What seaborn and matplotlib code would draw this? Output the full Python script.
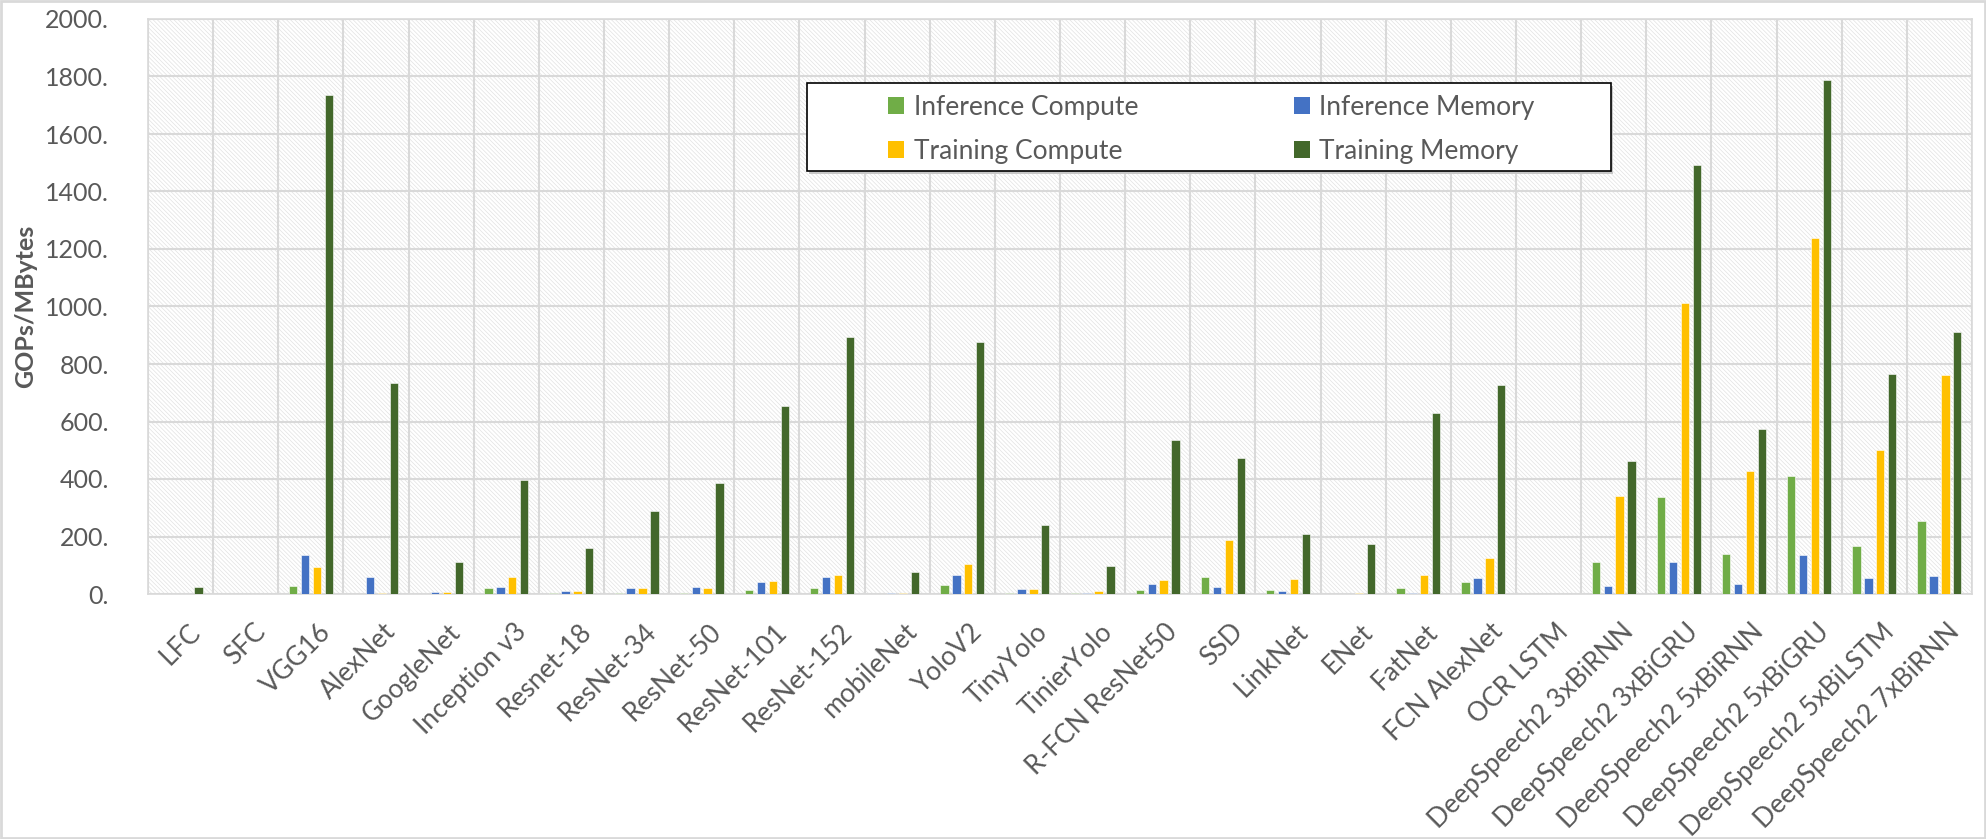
import numpy as np
import pandas as pd
import matplotlib
matplotlib.use("Agg")
import matplotlib.pyplot as plt
import matplotlib.transforms as mtransforms
from matplotlib.patches import Rectangle
from matplotlib.ticker import FixedLocator, FuncFormatter
import seaborn as sns

models = ["LFC", "SFC", "VGG16", "AlexNet", "GoogleNet", "Inception v3", "Resnet-18",
          "ResNet-34", "ResNet-50", "ResNet-101", "ResNet-152", "mobileNet", "YoloV2",
          "TinyYolo", "TinierYolo", "R-FCN ResNet50", "SSD", "LinkNet", "ENet", "FatNet",
          "FCN AlexNet", "OCR LSTM", "DeepSpeech2 3xBiRNN", "DeepSpeech2 3xBiGRU",
          "DeepSpeech2 5xBiRNN", "DeepSpeech2 5xBiGRU", "DeepSpeech2 5xBiLSTM",
          "DeepSpeech2 7xBiRNN"]

inference_compute = [0.5, 0.1, 29, 1, 1.5, 20, 2, 5, 5, 14, 21, 0.6, 32, 5, 3, 15, 60, 15,
                     0.4, 21, 41, 0, 111, 339, 140, 412, 167, 254]
inference_memory = [0.5, 0.1, 137, 60, 6, 24, 9, 22, 25, 43, 59, 2, 66, 17, 5, 35, 25, 9,
                    0.5, 3, 57, 0, 29, 111, 35, 137, 55, 63]
training_compute = [1, 0.2, 93, 5, 8, 59, 9, 22, 22, 44, 66, 2, 103, 19, 10, 50, 187, 51,
                    3, 66, 126, 0, 340, 1013, 429, 1238, 502, 763]
training_memory = [23, 0.5, 1736, 733, 110, 398, 160, 290, 386, 655, 893, 78, 877, 240, 96,
                   537, 473, 210, 175, 628, 728, 0, 463, 1493, 574, 1788, 766, 913]

series_names = ["Inference Compute", "Inference Memory", "Training Compute", "Training Memory"]
colors = ["#70ad47", "#4472c4", "#ffc000", "#43682b"]
y_ticks = [0, 200, 400, 600, 800, 1000, 1200, 1400, 1600, 1800, 2000]

df = pd.DataFrame({
    "model": models * 4,
    "series": np.repeat(series_names, len(models)),
    "value": inference_compute + inference_memory + training_compute + training_memory,
})

sns.set_style("white")
plt.rcParams['font.family'] = ['Lato', 'DejaVu Sans']
plt.rcParams['hatch.linewidth'] = 0.5
text_color = "#595959"
grid_color = "#d9d9d9"

W, H = 1986, 839
fig = plt.figure(figsize=(W / 100, H / 100), dpi=100)
ax = fig.add_axes([148 / W, 1 - 594 / H, (1972 - 148) / W, (594 - 19) / H])

# light diagonal pattern fill of the plot area
ax.add_patch(Rectangle((0, 0), 1, 1, transform=ax.transAxes, facecolor="white",
                       edgecolor="#e2e2e2", hatch="\\\\\\\\\\\\\\\\", lw=0, zorder=0))

sns.barplot(data=df, x="model", y="value", hue="series", hue_order=series_names,
            order=models, palette=colors, saturation=1, width=0.73, gap=0.3, ax=ax,
            edgecolor="white", linewidth=0.4, legend=False, zorder=3)

ax.set_xlim(-0.5, len(models) - 0.5)
ax.set_ylim(0, 2000)
ax.yaxis.set_major_locator(FixedLocator(y_ticks))
ax.yaxis.set_major_formatter(FuncFormatter(lambda v, p: f"{v:.0f}."))
ax.xaxis.set_minor_locator(FixedLocator(np.arange(-0.5, len(models), 1.0)))
ax.grid(True, axis="y", which="major", color=grid_color, lw=1.5, zorder=1)
ax.grid(True, axis="x", which="minor", color=grid_color, lw=1.5, zorder=1)
ax.set_axisbelow(True)

ax.set_xlabel("")
ax.set_ylabel("GOPs/MBytes", fontsize=18, fontweight="bold", color=text_color)
ax.yaxis.set_label_coords(-0.061, 0.5)
ax.tick_params(axis="both", which="both", length=0, colors=text_color)
ax.tick_params(axis="y", labelsize=18, pad=28)
ax.tick_params(axis="x", labelsize=19, pad=18)
shift = mtransforms.ScaledTranslation(7 / 100, 0, fig.dpi_scale_trans)
for lab in ax.get_xticklabels():
    lab.set_rotation(45)
    lab.set_ha("right")
    lab.set_rotation_mode("anchor")
    lab.set_transform(lab.get_transform() + shift)
for s in ax.spines.values():
    s.set_color(grid_color)
    s.set_linewidth(1.2)

# legend box with its own frame
x0, y0, x1, y1 = 807, 83, 1611, 171
ax.add_patch(Rectangle((x0 / W + 0.0012, 1 - y1 / H - 0.003), (x1 - x0) / W, (y1 - y0) / H,
                       transform=fig.transFigure, facecolor="#c8c8c8", edgecolor="none",
                       clip_on=False, zorder=6))
ax.add_patch(Rectangle((x0 / W, 1 - y1 / H), (x1 - x0) / W, (y1 - y0) / H,
                       transform=fig.transFigure, facecolor="white", edgecolor="black",
                       lw=1.2, clip_on=False, zorder=7))
handles = [Rectangle((0, 0), 1, 1, facecolor=c, edgecolor="none") for c in colors]
order = [0, 2, 1, 3]
leg = ax.legend([handles[i] for i in order], [series_names[i] for i in order], ncol=2,
                loc="upper left", bbox_to_anchor=(888 / W, 1 - 95 / H),
                bbox_transform=fig.transFigure, frameon=False, fontsize=19,
                handlelength=0.62, handleheight=0.62, handletextpad=0.35,
                columnspacing=5.9, labelspacing=0.72, borderpad=0, borderaxespad=0)
leg.set_zorder(8)
for t in leg.get_texts():
    t.set_color(text_color)

fig.patches.append(Rectangle((0.0005, 0.001), 0.999, 0.998, transform=fig.transFigure,
                             facecolor="none", edgecolor=grid_color, lw=2))

fig.savefig("out.png", dpi=100)
